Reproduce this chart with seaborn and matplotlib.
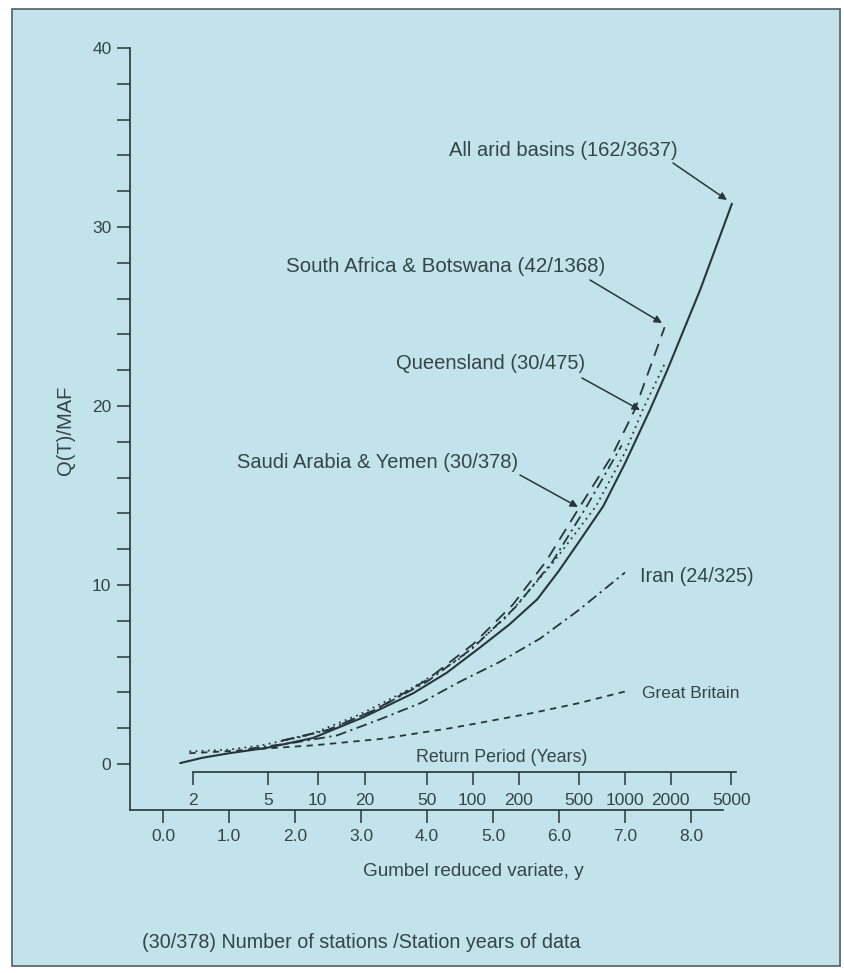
import numpy as np
import pandas as pd
import matplotlib
matplotlib.use("Agg")
import matplotlib.pyplot as plt
from matplotlib.patches import Rectangle
import seaborn as sns

# ---------------- data ----------------
arid_y = [0.26, 0.6, 1.0, 1.57, 2.27, 3.03, 3.79, 4.3, 4.8, 5.25, 5.67, 6.0, 6.3, 6.67, 7.0, 7.38, 7.64, 8.14, 8.62]
arid_q = [0.05, 0.35, 0.6, 0.9, 1.45, 2.6, 3.95, 5.1, 6.5, 7.8, 9.2, 10.8, 12.4, 14.4, 16.8, 19.8, 22.0, 26.5, 31.3]

sa_y = [1.8, 2.5, 3.2, 4.0, 4.7, 5.3, 5.8, 6.32, 6.8, 7.15, 7.6]
sa_q = [1.3, 1.9, 3.0, 4.7, 6.7, 8.9, 11.3, 14.4, 17.2, 19.8, 24.4]

qld_y = [0.4, 1.0, 1.5, 2.2, 3.0, 3.8, 4.5, 5.2, 5.9, 6.56, 7.0, 7.27, 7.62]
qld_q = [0.7, 0.8, 1.05, 1.6, 2.8, 4.3, 5.9, 8.2, 11.2, 14.4, 17.4, 19.8, 22.5]

saudi_y = [1.8, 2.5, 3.2, 4.0, 4.7, 5.35, 5.9, 6.42, 6.95]
saudi_q = [1.3, 1.9, 3.0, 4.6, 6.5, 8.8, 11.3, 14.4, 17.8]

iran_y = [1.3, 2.0, 2.64, 3.29, 3.9, 4.5, 5.1, 5.71, 6.3, 7.0]
iran_q = [0.85, 1.2, 1.6, 2.5, 3.4, 4.6, 5.7, 7.0, 8.6, 10.7]

gb_y = [0.4, 1.0, 1.5, 2.3, 3.3, 4.35, 4.8, 5.6, 6.3, 7.0]
gb_q = [0.6, 0.72, 0.85, 1.05, 1.4, 2.0, 2.3, 2.85, 3.4, 4.05]

gumbel_ticks = [0, 1, 2, 3, 4, 5, 6, 7, 8]
gumbel_labels = ["0.0", "1.0", "2.0", "3.0", "4.0", "5.0", "6.0", "7.0", "8.0"]
return_periods = [2, 5, 10, 20, 50, 100, 200, 500, 1000, 2000, 5000]
y_major = [0, 10, 20, 30, 40]
y_minor = [2, 4, 6, 8, 12, 14, 16, 18, 22, 24, 26, 28, 32, 34, 36, 38]

labels = {
    "arid": "All arid basins (162/3637)",
    "sa": "South Africa & Botswana (42/1368)",
    "qld": "Queensland (30/475)",
    "saudi": "Saudi Arabia & Yemen (30/378)",
    "iran": "Iran (24/325)",
    "gb": "Great Britain",
}

# ---------------- style ----------------
sns.set_style("white")
plt.rcParams["font.family"] = ["Liberation Sans", "DejaVu Sans"]
BG = "#c2e3e9"
INK = "#27363c"
TXT = "#34444a"

W, H = 844, 973
fig = plt.figure(figsize=(W / 100, H / 100), dpi=100)
fig.patch.set_facecolor("white")
fig.patches.append(Rectangle((12 / W, 1 - 966 / H), (840 - 12) / W, (966 - 9) / H,
                             transform=fig.transFigure, facecolor=BG,
                             edgecolor="#5a6a70", lw=1.3, zorder=-10))


def fx(px):
    return px / W


def fy(py):
    return 1 - py / H


# main axes : x pixel = 163 + 66*y ; y pixel = 764 - 17.9*Q
ax = fig.add_axes([fx(130), fy(810), 630 / W, 780 / H])
ax.set_facecolor("none")
XMIN, XMAX = -0.5, (760 - 163) / 66
YMIN, YMAX = -(810 - 764) / 17.9, (764 - 30) / 17.9
ax.set_xlim(XMIN, XMAX)
ax.set_ylim(YMIN, YMAX)

series = [
    (arid_y, arid_q, dict(linestyle="-", lw=1.5)),
    (sa_y, sa_q, dict(linestyle=(0, (7, 4.5)), lw=1.3)),
    (qld_y, qld_q, dict(linestyle=(0, (1, 2.4)), lw=1.3)),
    (saudi_y, saudi_q, dict(linestyle=(0, (6, 2.5, 1.2, 2.5)), lw=1.3)),
    (iran_y, iran_q, dict(linestyle=(0, (6, 2.5, 1.2, 2.5)), lw=1.3)),
    (gb_y, gb_q, dict(linestyle=(0, (3.5, 3)), lw=1.3)),
]
for xs, ys, kw in series:
    sns.lineplot(x=xs, y=ys, ax=ax, color=INK, estimator=None, sort=False,
                 legend=False, **kw)

for s in ["top", "right"]:
    ax.spines[s].set_visible(False)
for s in ["left", "bottom"]:
    ax.spines[s].set_color(INK)
    ax.spines[s].set_linewidth(1.2)
ax.spines["left"].set_bounds(YMIN, 40)
ax.spines["bottom"].set_bounds(XMIN, 8.48)

ax.set_yticks(y_major)
ax.set_yticklabels([str(v) for v in y_major])
ax.set_yticks(y_minor, minor=True)
ax.set_xticks(gumbel_ticks)
ax.set_xticklabels(gumbel_labels)
ax.tick_params(axis="both", which="both", direction="out", length=9.4, width=1.1,
               color=INK, labelcolor=TXT, labelsize=12.5, bottom=True, left=True,
               top=False, right=False)
ax.tick_params(axis="y", which="both", pad=4)
ax.tick_params(axis="x", which="both", pad=4.5)
ax.set_xlabel("")
ax.set_ylabel("")

# return-period axis (drawn as in the original, slightly offset to the right)
OFF = 6
ax2 = fig.add_axes([fx(130 + OFF), fy(772), 630 / W, 0.0001])
ax2.set_facecolor("none")
ax2.set_xlim(XMIN, XMAX)
ax2.set_yticks([])
for s in ["top", "right", "left"]:
    ax2.spines[s].set_visible(False)
rp_pos = [-np.log(-np.log(1 - 1 / t)) for t in return_periods]
ax2.spines["bottom"].set_bounds(rp_pos[0], rp_pos[-1] + 0.08)
ax2.spines["bottom"].set_color(INK)
ax2.spines["bottom"].set_linewidth(1.2)
ax2.set_xticks(rp_pos)
ax2.set_xticklabels([str(t) for t in return_periods])
ax2.tick_params(axis="x", direction="out", length=9.4, width=1.1, color=INK,
                labelcolor=TXT, labelsize=12.5, pad=5.5, bottom=True, top=False)

# axis titles / texts
fig.text(fx(502), fy(757), "Return Period (Years)", ha="center", va="center",
         fontsize=12.8, color=TXT)
fig.text(fx(473), fy(872), "Gumbel reduced variate, y", ha="center", va="center",
         fontsize=13.6, color=TXT)
fig.text(fx(66), fy(430), "Q(T)/MAF", ha="center", va="center", rotation=90,
         fontsize=14.5, color=TXT)
fig.text(fx(142), fy(943), "(30/378) Number of stations /Station years of data",
         ha="left", va="center", fontsize=14.2, color=TXT)

# curve labels
fig.text(fx(678), fy(150), labels["arid"], ha="right", va="center", fontsize=14.5, color=TXT)
fig.text(fx(605), fy(267), labels["sa"], ha="right", va="center", fontsize=14.8, color=TXT)
fig.text(fx(585), fy(363), labels["qld"], ha="right", va="center", fontsize=14.5, color=TXT)
fig.text(fx(518), fy(463), labels["saudi"], ha="right", va="center", fontsize=14.5, color=TXT)
fig.text(fx(640), fy(577), labels["iran"], ha="left", va="center", fontsize=14.2, color=TXT)
fig.text(fx(642), fy(693), labels["gb"], ha="left", va="center", fontsize=12.5, color=TXT)

arrow_kw = dict(arrowstyle="-|>", color=INK, lw=1.1, mutation_scale=11,
                shrinkA=0, shrinkB=0)


def arrow(start_px, tip_px):
    ax.annotate("", xy=(tip_px[0], H - tip_px[1]), xycoords="figure pixels",
                xytext=(start_px[0], H - start_px[1]), textcoords="figure pixels",
                arrowprops=arrow_kw)


arrow((673, 163), (727, 200))
arrow((590, 280), (662, 323))
arrow((582, 378), (640, 410))
arrow((520, 475), (578, 507))

fig.savefig("out.png", dpi=100, facecolor="white")
